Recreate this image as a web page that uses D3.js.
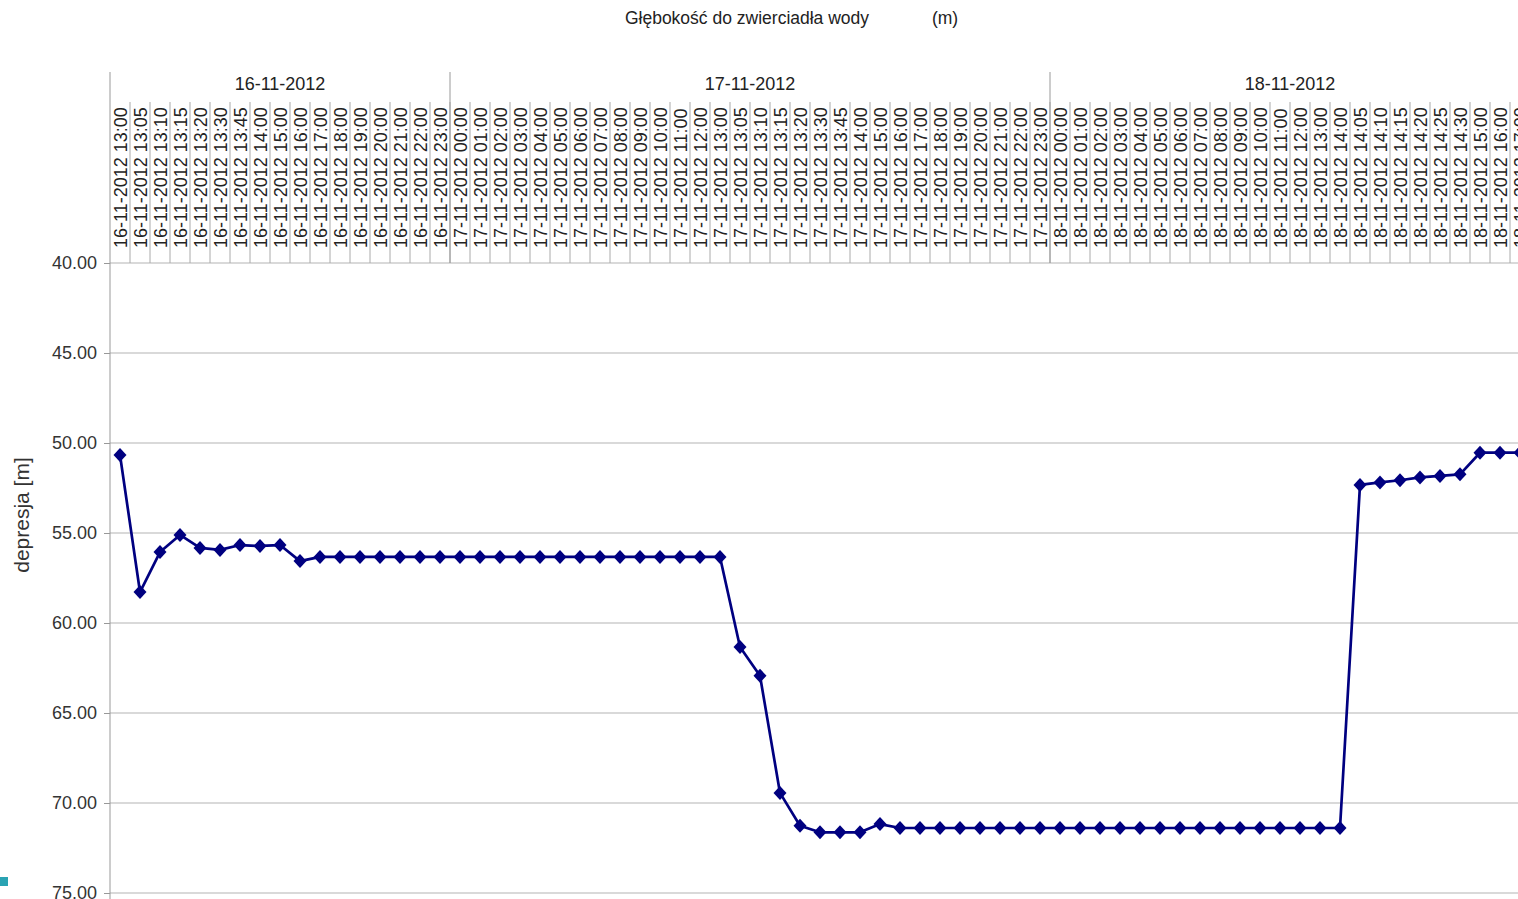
<!DOCTYPE html>
<html>
<head>
<meta charset="utf-8">
<script src="https://cdn.jsdelivr.net/npm/d3@7"></script>
<style>
html,body{margin:0;padding:0;background:#fff;overflow:hidden;}
svg{display:block;font-family:"Liberation Sans",Arial,sans-serif;}
</style>
</head>
<body>
<svg id="chart" width="1518" height="899"></svg>
<script>
// ---- data ----
const titleText = "Głębokość do zwierciadła wody";
const titleUnit = "(m)";
const yTitle = "depresja [m]";
const days = ["16-11-2012", "17-11-2012", "18-11-2012"];
const times16 = ["13:00","13:05","13:10","13:15","13:20","13:30","13:45","14:00","15:00","16:00","17:00","18:00","19:00","20:00","21:00","22:00","23:00"];
const times17 = ["00:00","01:00","02:00","03:00","04:00","05:00","06:00","07:00","08:00","09:00","10:00","11:00","12:00","13:00","13:05","13:10","13:15","13:20","13:30","13:45","14:00","15:00","16:00","17:00","18:00","19:00","20:00","21:00","22:00","23:00"];
const times18 = ["00:00","01:00","02:00","03:00","04:00","05:00","06:00","07:00","08:00","09:00","10:00","11:00","12:00","13:00","14:00","14:05","14:10","14:15","14:20","14:25","14:30","15:00","16:00","17:00"];
const values16 = [50.67,58.28,56.06,55.11,55.83,55.94,55.67,55.72,55.67,56.56,56.33,56.33,56.33,56.33,56.33,56.33,56.33];
const values17 = [56.33,56.33,56.33,56.33,56.33,56.33,56.33,56.33,56.33,56.33,56.33,56.33,56.33,56.33,61.33,62.93,69.44,71.26,71.63,71.63,71.63,71.17,71.39,71.39,71.39,71.39,71.39,71.39,71.39,71.39];
const values18 = [71.39,71.39,71.39,71.39,71.39,71.39,71.39,71.39,71.39,71.39,71.39,71.39,71.39,71.39,71.39,52.33,52.19,52.07,51.91,51.83,51.74,50.54,50.54,50.54];
const yTicks = [40,45,50,55,60,65,70,75];

// ---- build ----
const dayTimes = [times16, times17, times18];
const dayValues = [values16, values17, values18];
const data = [];
days.forEach((d, di) => dayTimes[di].forEach((t, ti) => data.push({day: d, cat: d + " " + t, v: dayValues[di][ti]})));

const svg = d3.select("#chart");
const plotLeft = 110, plotTop = 263, plotBottom = 893, headerTop = 72, catTop = 102;
const cellW = 20;
const x = d3.scaleBand().domain(data.map(d => d.cat)).range([plotLeft, plotLeft + data.length * cellW]).padding(0);
const y = d3.scaleLinear().domain([40, 75]).range([plotTop, plotBottom]);
const plotRight = plotLeft + data.length * cellW;

// title
svg.append("text").attr("x", 747).attr("y", 24).attr("text-anchor", "middle")
  .attr("font-size", 17.5).attr("fill", "#222").text(titleText);
svg.append("text").attr("x", 945).attr("y", 24).attr("text-anchor", "middle")
  .attr("font-size", 17.5).attr("fill", "#222").text(titleUnit);

// gridlines
svg.append("g").selectAll("line").data(yTicks).join("line")
  .attr("x1", plotLeft).attr("x2", plotRight)
  .attr("y1", d => y(d)).attr("y2", d => y(d))
  .attr("stroke", "#b3b3b3").attr("stroke-width", 1);

// y axis
const yAxis = d3.axisLeft(y).tickValues(yTicks).tickFormat(d3.format(".2f")).tickSize(6).tickPadding(7);
const ya = svg.append("g").attr("transform", `translate(${plotLeft},0)`).call(yAxis);
ya.select(".domain").remove();
ya.selectAll("line").attr("stroke", "#999");
ya.selectAll("text").attr("font-size", 18).attr("fill", "#333").attr("font-family", "Liberation Sans, Arial, sans-serif");

svg.append("line").attr("x1", plotLeft).attr("x2", plotLeft).attr("y1", headerTop).attr("y2", 899)
  .attr("stroke", "#999").attr("stroke-width", 1);

// y title
svg.append("text").attr("transform", `translate(29,515) rotate(-90)`).attr("text-anchor", "middle")
  .attr("font-size", 21).attr("fill", "#333").text(yTitle);

// header: category separators
const hdr = svg.append("g");
hdr.selectAll("line.cat").data(data.slice(1)).join("line").attr("class", "cat")
  .attr("x1", d => x(d.cat)).attr("x2", d => x(d.cat))
  .attr("y1", catTop).attr("y2", plotTop)
  .attr("stroke", "#aaa").attr("stroke-width", 1);
// day separators and labels
const groups = days.map(d => {
  const cats = data.filter(e => e.day === d);
  return {day: d, x0: x(cats[0].cat), x1: x(cats[cats.length - 1].cat) + x.bandwidth()};
});
hdr.selectAll("line.day").data(groups.slice(1)).join("line").attr("class", "day")
  .attr("x1", d => d.x0).attr("x2", d => d.x0).attr("y1", headerTop).attr("y2", plotTop)
  .attr("stroke", "#999").attr("stroke-width", 1);
hdr.selectAll("text.day").data(groups).join("text").attr("class", "day")
  .attr("x", d => (d.x0 + d.x1) / 2).attr("y", 90).attr("text-anchor", "middle")
  .attr("font-size", 18).attr("fill", "#222").text(d => d.day);
// category labels
hdr.selectAll("text.cat").data(data).join("text").attr("class", "cat")
  .attr("transform", d => `translate(${x(d.cat) + x.bandwidth() / 2 + 6.5},248) rotate(-90)`)
  .attr("text-anchor", "start").attr("font-size", 18).attr("fill", "#222").text(d => d.cat);

// line
const line = d3.line().x(d => x(d.cat) + x.bandwidth() / 2).y(d => y(d.v));
svg.append("path").datum(data).attr("d", line).attr("fill", "none")
  .attr("stroke", "#000080").attr("stroke-width", 2.7).attr("stroke-linejoin", "round");

// markers
svg.append("g").selectAll("path").data(data).join("path")
  .attr("transform", d => `translate(${x(d.cat) + x.bandwidth() / 2},${y(d.v)})`)
  .attr("d", "M0,-7L6.5,0L0,7L-6.5,0Z").attr("fill", "#000080");

// small decoration at left edge
svg.append("rect").attr("x", 0).attr("y", 877).attr("width", 8).attr("height", 9).attr("fill", "#2aa3b3");
</script>
</body>
</html>
